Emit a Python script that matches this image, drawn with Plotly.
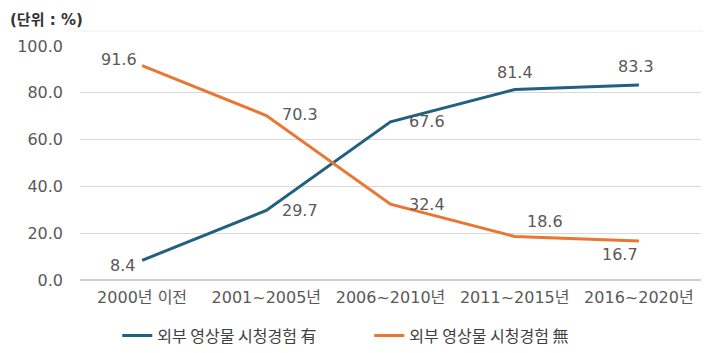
import plotly.graph_objects as go

categories = ["2000년 이전", "2001~2005년", "2006~2010년", "2011~2015년", "2016~2020년"]
with_exp = [8.4, 29.7, 67.6, 81.4, 83.3]
without_exp = [91.6, 70.3, 32.4, 18.6, 16.7]
name_with = "외부 영상물 시청경험 有"
name_without = "외부 영상물 시청경험 無"
y_ticks = [0, 20, 40, 60, 80, 100]

BLUE = "#21607F"
ORANGE = "#EA7632"
TXT = "#595959"
FONT = "DejaVu Sans, Noto Sans CJK KR"
KFONT = "Noto Sans CJK KR"

fig = go.Figure()
fig.add_trace(go.Scatter(x=categories, y=with_exp, mode="lines", name=name_with,
                         line=dict(color=BLUE, width=3)))
fig.add_trace(go.Scatter(x=categories, y=without_exp, mode="lines", name=name_without,
                         line=dict(color=ORANGE, width=3)))

# label offsets (px) for each point
off_with = [(-20, -5), (34, 0), (36, 0), (0, 17), (-3, 19)]
off_without = [(-23, 6), (34, 1), (36, 0), (30, 15), (-19, -14)]
for vals, offs in ((with_exp, off_with), (without_exp, off_without)):
    for c, v, (dx, dy) in zip(categories, vals, offs):
        fig.add_annotation(x=c, y=v, text=f"{v:.1f}", showarrow=False,
                           xshift=dx, yshift=dy,
                           font=dict(family=FONT, size=16, color=TXT))

fig.add_annotation(xref="paper", yref="paper", x=-0.116, y=1.11, xanchor="left",
                   yanchor="middle", text="<b>(단위 : %)</b>", showarrow=False,
                   font=dict(family=FONT, size=15, color="#333333"))

# faint top border line
fig.add_shape(type="line", xref="paper", yref="paper", x0=-0.002, x1=1.003,
              y0=1.064, y1=1.064, line=dict(color="#EEEEEE", width=1))

fig.update_layout(
    width=708, height=353,
    margin=dict(l=80, r=7, t=46, b=73, autoexpand=False),
    paper_bgcolor="white", plot_bgcolor="white",
    font=dict(family=FONT, size=16, color=TXT),
    showlegend=True,
    legend=dict(orientation="h", x=0.06, xanchor="left", y=-0.165, yanchor="top",
                font=dict(family=KFONT, size=16, color="#404040"),
                entrywidth=207, tracegroupgap=0),
)
fig.update_xaxes(range=[-0.5, 4.5], showgrid=False, showline=False, ticks="",
                 ticklabelstandoff=6,
                 tickfont=dict(family=FONT, size=16, color=TXT))
fig.update_yaxes(range=[0, 100], tickvals=y_ticks, ticktext=[f"{t:.1f}" for t in y_ticks],
                 showgrid=True, gridcolor="#D9D9D9", gridwidth=1,
                 zeroline=True, zerolinecolor="#CFCFCF", zerolinewidth=1.5,
                 showline=False, ticks="", ticklabelstandoff=16,
                 tickfont=dict(family=FONT, size=16, color=TXT))

fig.write_html("out.html")
